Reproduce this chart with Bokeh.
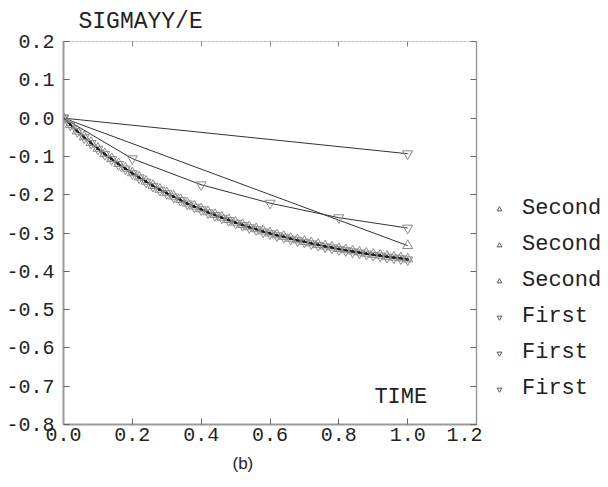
from bokeh.plotting import figure
from bokeh.layouts import row
from bokeh.models import (Range1d, FixedTicker, PrintfTickFormatter, LinearAxis,
                          Legend, LegendItem, Label, Title, CustomJSTickFormatter)
from bokeh.embed import file_html
from bokeh.resources import INLINE

# ---------------- data ----------------
x_ticks = [0.0, 0.2, 0.4, 0.6, 0.8, 1.0, 1.2]
y_ticks = [-0.8, -0.7, -0.6, -0.5, -0.4, -0.3, -0.2, -0.1, 0.0, 0.1, 0.2]

t_dense = [0.00, 0.02, 0.04, 0.06, 0.08, 0.10, 0.12, 0.14, 0.16, 0.18,
           0.20, 0.22, 0.24, 0.26, 0.28, 0.30, 0.32, 0.34, 0.36, 0.38,
           0.40, 0.42, 0.44, 0.46, 0.48, 0.50, 0.52, 0.54, 0.56, 0.58,
           0.60, 0.62, 0.64, 0.66, 0.68, 0.70, 0.72, 0.74, 0.76, 0.78,
           0.80, 0.82, 0.84, 0.86, 0.88, 0.90, 0.92, 0.94, 0.96, 0.98, 1.00]

second_fine = [0.0, -0.017, -0.034, -0.050, -0.065, -0.080, -0.094, -0.107, -0.120, -0.132,
               -0.144, -0.155, -0.166, -0.177, -0.187, -0.196, -0.205, -0.214, -0.223, -0.231,
               -0.238, -0.246, -0.253, -0.260, -0.266, -0.273, -0.279, -0.285, -0.290, -0.296,
               -0.301, -0.306, -0.310, -0.315, -0.319, -0.323, -0.327, -0.331, -0.335, -0.338,
               -0.342, -0.345, -0.348, -0.351, -0.354, -0.357, -0.359, -0.362, -0.364, -0.366, -0.369]

second_dense = [0.0, -0.017, -0.034, -0.049, -0.064, -0.079, -0.093, -0.106, -0.119, -0.131,
                -0.143, -0.154, -0.165, -0.176, -0.186, -0.195, -0.204, -0.213, -0.222, -0.230,
                -0.237, -0.245, -0.252, -0.259, -0.265, -0.272, -0.278, -0.284, -0.289, -0.295,
                -0.300, -0.305, -0.309, -0.314, -0.318, -0.322, -0.326, -0.330, -0.334, -0.337,
                -0.341, -0.344, -0.347, -0.350, -0.353, -0.356, -0.358, -0.361, -0.363, -0.365, -0.368]

first_dense = [0.0, -0.018, -0.035, -0.051, -0.066, -0.081, -0.095, -0.108, -0.121, -0.133,
               -0.145, -0.156, -0.167, -0.178, -0.188, -0.197, -0.206, -0.215, -0.224, -0.232,
               -0.239, -0.247, -0.254, -0.261, -0.267, -0.274, -0.280, -0.286, -0.291, -0.297,
               -0.302, -0.307, -0.311, -0.316, -0.320, -0.324, -0.328, -0.332, -0.336, -0.339,
               -0.343, -0.346, -0.349, -0.352, -0.355, -0.358, -0.360, -0.363, -0.365, -0.367, -0.370]

t_second_coarse = [0.0, 1.0]
second_coarse = [0.0, -0.333]

t_first_coarse = [0.0, 1.0]
first_coarse = [0.0, -0.093]

t_first_mid = [0.0, 0.2, 0.4, 0.6, 0.8, 1.0]
first_mid = [0.0, -0.106, -0.174, -0.222, -0.260, -0.287]

legend_labels = ["Second", "Second", "Second", "First", "First", "First"]
legend_markers = ["triangle", "triangle", "triangle",
                  "inverted_triangle", "inverted_triangle", "inverted_triangle"]

# ---------------- styling ----------------
MONO = "Liberation Mono"
LINE = "#333333"
MARK = "#8a8a8a"
AXIS = "#9a9a9a"
TXT = "#222222"

p = figure(frame_width=413, frame_height=383, x_range=Range1d(0, 1.2), y_range=Range1d(-0.8, 0.2),
           output_backend="svg", toolbar_location=None,
           min_border_left=63, min_border_right=6, min_border_top=41, min_border_bottom=55)
p.outline_line_color = None
p.xgrid.visible = False
p.ygrid.visible = False
p.background_fill_color = "white"
p.border_fill_color = "white"

p.title.text = "SIGMAYY/E"
p.title.text_font = MONO
p.title.text_font_size = "23px"
p.title.text_font_style = "normal"
p.title.text_color = TXT
p.title.align = "left"
p.title.offset = 15
p.title.standoff = 13

for ax in (p.xaxis[0], p.yaxis[0]):
    ax.major_tick_in = 6
    ax.major_tick_out = 0
    ax.minor_tick_in = 0
    ax.minor_tick_out = 0
    ax.axis_line_color = AXIS
    ax.axis_line_width = 2
    ax.major_tick_line_color = "#666666"
    ax.major_label_text_font = MONO
    ax.major_label_text_font_size = "20px"
    ax.major_label_text_color = TXT
    ax.formatter = PrintfTickFormatter(format="%.1f")

p.xaxis[0].ticker = FixedTicker(ticks=x_ticks)
p.yaxis[0].ticker = FixedTicker(ticks=y_ticks)
p.xaxis[0].major_label_standoff = 3
p.yaxis[0].major_label_standoff = 9

blank = CustomJSTickFormatter(code="return ''")
right_ax = LinearAxis(ticker=FixedTicker(ticks=y_ticks), major_tick_in=6, major_tick_out=0,
                      minor_tick_in=0, minor_tick_out=0, axis_line_color=AXIS, axis_line_width=1.5,
                      formatter=blank, major_label_standoff=0,
                      major_tick_line_color="#666666")
top_ax = LinearAxis(ticker=FixedTicker(ticks=x_ticks), major_tick_in=5, major_tick_out=0,
                    minor_tick_in=0, minor_tick_out=0, axis_line_color="#bbbbbb", axis_line_width=1,
                    axis_line_dash="3 1", formatter=blank, major_label_standoff=0,
                    major_tick_line_color="#888888")
p.add_layout(right_ax, "right")
p.add_layout(top_ax, "above")

# ---------------- series ----------------
p.line(t_first_coarse, first_coarse, line_color=LINE, line_width=1)
p.line(t_first_mid, first_mid, line_color=LINE, line_width=1)
p.line(t_second_coarse, second_coarse, line_color=LINE, line_width=1)
p.line(t_dense, first_dense, line_color=LINE, line_width=1)
p.line(t_dense, second_dense, line_color=LINE, line_width=1)
p.line(t_dense, second_fine, line_color="#111111", line_width=1.6)

p.scatter(t_dense, second_fine, marker="triangle", size=3, line_color="#222222",
          fill_color=None, line_width=1)
p.scatter(t_dense, second_dense, marker="triangle", size=10, line_color=MARK,
          fill_color=None, line_width=1)
p.scatter(t_second_coarse, second_coarse, marker="triangle", size=10, line_color=MARK,
          fill_color=None, line_width=1)
p.scatter(t_first_coarse, first_coarse, marker="inverted_triangle", size=10,
          line_color=MARK, fill_color=None, line_width=1)
p.scatter(t_first_mid, first_mid, marker="inverted_triangle", size=10, line_color=MARK,
          fill_color=None, line_width=1)
p.scatter(t_dense, first_dense, marker="inverted_triangle", size=10, line_color=MARK,
          fill_color=None, line_width=1)

# ---------------- texts ----------------
p.add_layout(Label(x=0.98, y=-0.73, text="TIME", text_font=MONO, text_font_size="22px",
                   text_align="center", text_baseline="middle", text_color=TXT))
p.add_layout(Title(text="(b)", align="left", offset=169, standoff=16,
                   text_font="Liberation Sans", text_font_size="17px",
                   text_font_style="normal", text_color=TXT), "below")

# ---------------- legend (separate panel to the right) ----------------
# the legend panel shows no data region: its ranges lie away from the series values
p2 = figure(width=118, height=486, x_range=Range1d(5, 6), y_range=Range1d(5, 6),
            output_backend="svg", toolbar_location=None,
            x_axis_location=None, y_axis_location=None, min_border=0)
p2.outline_line_color = None
p2.grid.visible = False
p2.background_fill_color = "white"
p2.border_fill_color = "white"

series_for_legend = [(t_dense, second_fine), (t_dense, second_dense),
                     (t_second_coarse, second_coarse), (t_first_coarse, first_coarse),
                     (t_first_mid, first_mid), (t_dense, first_dense)]
leg_renderers = [p2.scatter(x=xs, y=ys, marker=m, size=6, line_color="#555555",
                            fill_color=None, line_width=1)
                 for (xs, ys), m in zip(series_for_legend, legend_markers)]
legend = Legend(items=[LegendItem(label=lab, renderers=[r])
                       for lab, r in zip(legend_labels, leg_renderers)],
                location=(11, 29), glyph_width=12, glyph_height=12, label_standoff=17,
                spacing=11, padding=0, margin=0, border_line_color=None,
                background_fill_alpha=0, label_text_font=MONO, label_text_font_size="22px",
                label_text_color=TXT)
p2.add_layout(legend)

open("out.html", "w").write(file_html(row(p, p2), INLINE))
